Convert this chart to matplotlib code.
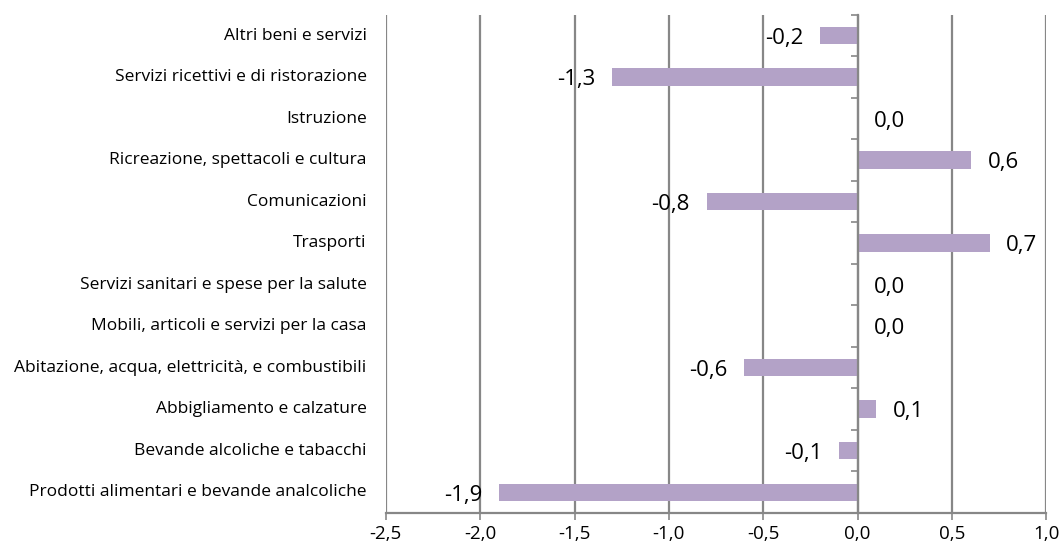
import matplotlib.pyplot as plt
from matplotlib.ticker import FixedLocator, FuncFormatter
import matplotlib.transforms as mtransforms

# Dati (dal basso verso l'alto)
categorie = [
    "Prodotti alimentari e bevande analcoliche",
    "Bevande alcoliche e tabacchi",
    "Abbigliamento e calzature",
    "Abitazione, acqua, elettricità, e combustibili",
    "Mobili, articoli e servizi per la casa",
    "Servizi sanitari e spese per la salute",
    "Trasporti",
    "Comunicazioni",
    "Ricreazione, spettacoli e cultura",
    "Istruzione",
    "Servizi ricettivi e di ristorazione",
    "Altri beni e servizi",
]
valori = [-1.9, -0.1, 0.1, -0.6, 0.0, 0.0, 0.7, -0.8, 0.6, 0.0, -1.3, -0.2]
x_ticks = [-2.5, -2.0, -1.5, -1.0, -0.5, 0.0, 0.5, 1.0]

plt.rcParams['font.family'] = ['Open Sans', 'DejaVu Sans']

fig = plt.figure(figsize=(10.6, 5.51), dpi=100)
ax = fig.add_axes([0.364, 0.069, 0.623, 0.904])

grigio = '#878787'
pos = list(range(len(categorie)))
ax.barh(pos, valori, height=0.42, color='#B3A2C7', zorder=3)

ax.set_xlim(-2.5, 1.0)
ax.set_ylim(-0.5, len(categorie) - 0.5)

# griglia verticale
ax.set_xticks(x_ticks)
ax.set_xticklabels([f"{v:.1f}".replace('.', ',') for v in x_ticks], fontsize=13.5)
ax.grid(axis='x', color=grigio, linewidth=1.6, zorder=0)
ax.tick_params(axis='x', length=5, width=1.2, color=grigio, pad=4)

# asse verticale sullo zero con tacche tra le categorie
for s in ['top', 'right']:
    ax.spines[s].set_visible(False)
ax.spines['left'].set_position(('data', 0))
ax.spines['left'].set_color(grigio)
ax.spines['left'].set_linewidth(1.6)
ax.spines['left'].set_zorder(4)
ax.spines['bottom'].set_color(grigio)
ax.spines['bottom'].set_linewidth(1.6)
ax.set_yticks([])
ax.yaxis.set_minor_locator(FixedLocator([p + 0.5 for p in range(-1, len(categorie))]))
ax.tick_params(axis='y', which='minor', length=5, width=1.2, color=grigio)

# etichette categorie
trans = mtransforms.blended_transform_factory(ax.transAxes, ax.transData)
for p, c in zip(pos, categorie):
    ax.text(-0.029, p, c, transform=trans, ha='right', va='center', fontsize=12.5)

# etichette valori
for p, v in zip(pos, valori):
    testo = f"{v:.1f}".replace('.', ',')
    if v < 0:
        ax.annotate(testo, (v, p), xytext=(-12, -2), textcoords='offset points',
                    ha='right', va='center', fontsize=16)
    else:
        ax.annotate(testo, (v, p), xytext=(12, -2), textcoords='offset points',
                    ha='left', va='center', fontsize=16)

fig.savefig('out.png', dpi=100)
